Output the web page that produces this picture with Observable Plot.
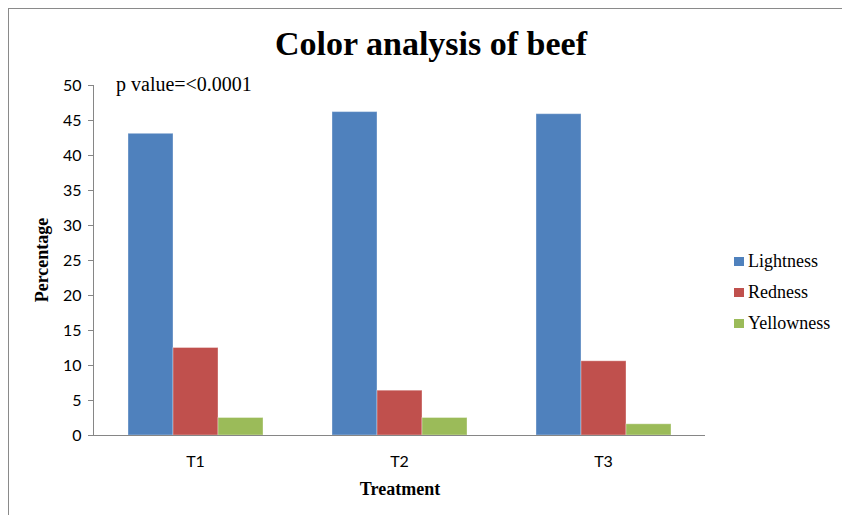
<!DOCTYPE html>
<html>
<head>
<meta charset="utf-8">
<script src="https://cdn.jsdelivr.net/npm/d3@7"></script>
<script src="https://cdn.jsdelivr.net/npm/@observablehq/plot@0.6"></script>
<style>
  body { margin: 0; background: #fff; }
  #chart { position: relative; width: 842px; height: 515px; overflow: hidden; background: #fff; }
  #chart svg { position: absolute; left: 0; top: 0; }
  .border { position: absolute; left: 8px; top: 8px; width: 900px; height: 600px;
            border-left: 1.5px solid #8a8a8a; border-top: 1.5px solid #8a8a8a; box-sizing: border-box; }
  .lbl { position: absolute; font-family: "Liberation Serif", "Times New Roman", serif; color: #000;
         white-space: nowrap; line-height: 1; }
  .title { font-size: 34px; font-weight: bold; }
  .note { font-size: 20px; }
  .axis-title { font-size: 18px; font-weight: bold; }
  .legend-item { position: absolute; display: flex; align-items: center;
                 font-family: "Liberation Serif", "Times New Roman", serif; }
  .swatch { width: 10px; height: 9px; margin-right: 4px; }
  .legend-text { font-family: "Liberation Serif", "Times New Roman", serif; font-size: 18px; line-height: 1; color: #000; }
</style>
</head>
<body>
<div id="chart"><div class="border"></div></div>
<script>
// Treatments on the x axis and the three colour measures
const treatments = ["T1", "T2", "T3"];
const seriesNames = ["Lightness", "Redness", "Yellowness"];
const lightness = [43.1, 46.2, 45.9];
const redness = [12.5, 6.4, 10.6];
const yellowness = [2.5, 2.5, 1.6];
const seriesColors = ["#4F81BD", "#C0504D", "#9BBB59"];
const yTicks = [0, 5, 10, 15, 20, 25, 30, 35, 40, 45, 50];

const seriesValues = [lightness, redness, yellowness];
const rows = [];
treatments.forEach((t, i) => {
  seriesNames.forEach((s, j) => rows.push({treatment: t, series: s, value: seriesValues[j][i]}));
});

const plot = Plot.plot({
  width: 842,
  height: 515,
  marginLeft: 92,
  marginRight: 136,
  marginTop: 85,
  marginBottom: 80,
  style: {fontFamily: "Lato, 'Liberation Sans', sans-serif", fontSize: "16px", color: "#000", background: "transparent"},
  fx: {domain: treatments, padding: 0, label: null, axis: null},
  x: {domain: seriesNames, paddingInner: 0, paddingOuter: 0.75, axis: null},
  y: {domain: [0, 50], axis: null},
  color: {domain: seriesNames, range: seriesColors},
  marks: [
    Plot.barY(rows, {fx: "treatment", x: "series", y: "value", fill: "series",
                     stroke: "#fff", strokeOpacity: 0.35, strokeWidth: 1}),
    Plot.ruleY([0], {stroke: "#868686"}),
    Plot.frame({anchor: "left", facetAnchor: "left", stroke: "#868686"}),
    Plot.axisY({ticks: yTicks, tickSize: 5, tickPadding: 7, stroke: "#868686", fill: "#000",
                fontSize: 16, label: null}),
    Plot.axisFx({anchor: "bottom", tickSize: 0, tickPadding: 20, fill: "#000", fontSize: 16, label: null})
  ]
});

const chart = document.getElementById("chart");
chart.appendChild(plot);

// Titles and notes placed around the plot
function addLabel(text, cls, left, top, transform) {
  const d = document.createElement("div");
  d.className = "lbl " + cls;
  d.textContent = text;
  d.style.left = left + "px";
  d.style.top = top + "px";
  if (transform) d.style.transform = transform;
  chart.appendChild(d);
}
addLabel("Color analysis of beef", "title", 431, 27, "translateX(-50%)");
addLabel("p value=<0.0001", "note", 116, 74);
addLabel("Treatment", "axis-title", 400, 480, "translateX(-50%)");
addLabel("Percentage", "axis-title", 42, 260, "translate(-50%, -50%) rotate(-90deg)");

// Legend
const legendTops = [252, 283, 314];
seriesNames.forEach((name, i) => {
  const item = document.createElement("div");
  item.className = "legend-item";
  item.style.left = "734px";
  item.style.top = legendTops[i] + "px";
  const sw = document.createElement("div");
  sw.className = "swatch";
  sw.style.background = seriesColors[i];
  const tx = document.createElement("span");
  tx.className = "legend-text";
  tx.style.fontFamily = "'Liberation Serif', 'Times New Roman', serif";
  tx.textContent = name;
  item.appendChild(sw);
  item.appendChild(tx);
  chart.appendChild(item);
});
</script>
</body>
</html>
